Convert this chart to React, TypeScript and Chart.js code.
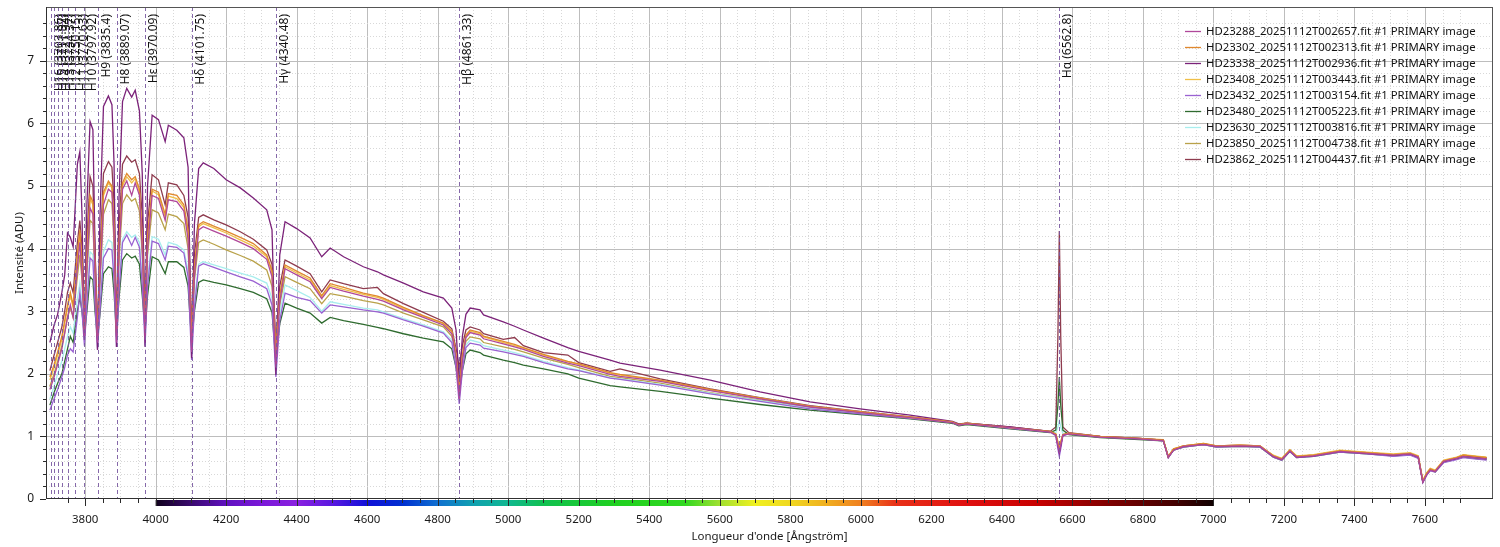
import { useEffect, useRef } from "react";
import { Chart, registerables } from "chart.js";

Chart.register(...registerables);

const FONT = '"Noto Sans", "Open Sans", sans-serif';

// Wavelength grid (Ångström)
const wavelengths = [
  3700, 3712, 3722, 3734, 3742, 3750, 3758, 3766, 3778, 3785, 3791, 3798, 3805, 3814, 3822, 3828, 3835, 3842,
  3852, 3866, 3876, 3882, 3889, 3896, 3906, 3918, 3932, 3942, 3954, 3962, 3970, 3977, 3990, 4008, 4027, 4036, 4060, 4080,
  4092, 4102, 4110, 4122, 4135, 4165, 4200, 4240, 4277, 4315, 4330, 4341, 4352, 4367, 4400, 4438, 4471, 4495, 4533, 4589,
  4629, 4646, 4703, 4759, 4816, 4840, 4852, 4861, 4870, 4880, 4892, 4920, 4930, 4986, 5018, 5043, 5100, 5169, 5200, 5289,
  5317, 5431, 5573, 5714, 5856, 5998, 6140, 6260, 6278, 6300, 6423, 6537, 6553, 6559, 6563, 6567, 6573, 6590, 6679, 6790,
  6858, 6872, 6887, 6915, 6972, 7009, 7076, 7132, 7170, 7194, 7217, 7236, 7284, 7359, 7435, 7510, 7558, 7581, 7594, 7605,
  7615, 7629, 7653, 7690, 7709, 7740, 7775,
];

const hd23288 = [
  1.75, 1.95, 2.15, 2.40, 2.65, 2.90, 3.10, 2.90, 3.70, 4.10, 3.60, 2.60, 3.70, 4.65, 4.55, 3.60, 2.50, 3.50,
  4.70, 4.95, 4.90, 4.20, 2.50, 3.90, 4.95, 5.08, 4.85, 5.05, 4.85, 4.00, 2.55, 4.00, 4.85, 4.80, 4.45, 4.78, 4.75, 4.60,
  4.15, 2.35, 3.55, 4.30, 4.35, 4.28, 4.20, 4.10, 4.00, 3.83, 3.55, 2.10, 3.15, 3.68, 3.58, 3.47, 3.20, 3.38, 3.32, 3.24,
  3.19, 3.16, 3.02, 2.90, 2.78, 2.64, 2.25, 1.60, 2.20, 2.58, 2.66, 2.62, 2.56, 2.48, 2.43, 2.39, 2.28, 2.17, 2.13, 1.99,
  1.96, 1.88, 1.73, 1.60, 1.47, 1.38, 1.30, 1.22, 1.18, 1.20, 1.14, 1.07, 1.02, 0.86, 0.76, 0.86, 1.02, 1.04, 0.99, 0.96,
  0.93, 0.67, 0.78, 0.84, 0.87, 0.84, 0.85, 0.84, 0.68, 0.63, 0.77, 0.67, 0.69, 0.76, 0.73, 0.70, 0.72, 0.67, 0.27, 0.39,
  0.46, 0.44, 0.60, 0.65, 0.68, 0.66, 0.64,
];

const hd23302 = [
  1.95, 2.15, 2.35, 2.60, 2.85, 3.10, 3.30, 3.10, 3.90, 4.30, 3.80, 2.70, 3.90, 4.85, 4.75, 3.80, 2.60, 3.70,
  4.90, 5.08, 5.00, 4.40, 2.65, 4.10, 5.05, 5.20, 5.10, 5.15, 4.95, 4.20, 2.70, 4.20, 4.95, 4.90, 4.55, 4.88, 4.85, 4.70,
  4.30, 2.55, 3.70, 4.38, 4.43, 4.36, 4.28, 4.18, 4.08, 3.90, 3.65, 2.30, 3.25, 3.74, 3.64, 3.53, 3.25, 3.44, 3.38, 3.29,
  3.24, 3.21, 3.06, 2.93, 2.81, 2.68, 2.30, 1.75, 2.30, 2.62, 2.70, 2.66, 2.60, 2.52, 2.47, 2.42, 2.31, 2.20, 2.16, 2.02,
  1.99, 1.90, 1.75, 1.61, 1.48, 1.39, 1.31, 1.23, 1.19, 1.21, 1.14, 1.08, 1.04, 0.90, 0.80, 0.90, 1.03, 1.05, 1.00, 0.97,
  0.94, 0.68, 0.80, 0.85, 0.89, 0.85, 0.86, 0.85, 0.69, 0.64, 0.78, 0.68, 0.70, 0.77, 0.74, 0.71, 0.73, 0.68, 0.29, 0.41,
  0.48, 0.45, 0.61, 0.66, 0.70, 0.68, 0.66,
];

const hd23338 = [
  2.50, 2.78, 2.95, 3.30, 3.58, 4.25, 4.18, 4.03, 5.35, 5.55, 4.56, 2.54, 4.70, 6.03, 5.90, 4.03, 2.38, 4.50,
  6.27, 6.44, 6.30, 5.36, 2.43, 4.80, 6.35, 6.56, 6.42, 6.53, 6.20, 5.20, 2.43, 5.00, 6.13, 6.06, 5.71, 5.97, 5.89, 5.77,
  5.30, 2.25, 4.40, 5.28, 5.37, 5.28, 5.10, 4.97, 4.81, 4.62, 4.30, 1.98, 3.90, 4.43, 4.32, 4.17, 3.87, 4.01, 3.87, 3.71,
  3.63, 3.58, 3.45, 3.31, 3.21, 3.05, 2.70, 1.85, 2.60, 2.95, 3.05, 3.02, 2.94, 2.83, 2.76, 2.70, 2.57, 2.42, 2.36, 2.22,
  2.17, 2.06, 1.90, 1.71, 1.55, 1.44, 1.34, 1.24, 1.20, 1.21, 1.15, 1.08, 1.03, 0.85, 0.74, 0.85, 1.02, 1.05, 1.00, 0.97,
  0.94, 0.67, 0.79, 0.84, 0.88, 0.84, 0.85, 0.84, 0.68, 0.63, 0.77, 0.67, 0.69, 0.76, 0.73, 0.70, 0.72, 0.67, 0.28, 0.40,
  0.47, 0.44, 0.60, 0.65, 0.69, 0.67, 0.65,
];

const hd23408 = [
  1.90, 2.10, 2.30, 2.55, 2.80, 3.05, 3.25, 3.05, 3.85, 4.25, 3.75, 2.70, 3.85, 4.80, 4.70, 3.75, 2.65, 3.65,
  4.85, 5.05, 4.97, 4.35, 2.70, 4.05, 5.00, 5.15, 5.05, 5.12, 4.90, 4.15, 2.75, 4.15, 4.92, 4.86, 4.50, 4.84, 4.80, 4.66,
  4.25, 2.60, 3.70, 4.35, 4.40, 4.33, 4.25, 4.14, 4.04, 3.87, 3.62, 2.35, 3.25, 3.71, 3.61, 3.50, 3.22, 3.41, 3.35, 3.27,
  3.22, 3.19, 3.04, 2.92, 2.80, 2.67, 2.32, 1.80, 2.30, 2.60, 2.68, 2.64, 2.59, 2.50, 2.45, 2.41, 2.30, 2.19, 2.15, 2.01,
  1.98, 1.89, 1.74, 1.61, 1.48, 1.39, 1.30, 1.23, 1.19, 1.21, 1.14, 1.08, 1.04, 0.92, 0.82, 0.92, 1.03, 1.05, 1.00, 0.97,
  0.95, 0.68, 0.80, 0.85, 0.89, 0.85, 0.86, 0.85, 0.70, 0.65, 0.79, 0.69, 0.71, 0.78, 0.75, 0.72, 0.74, 0.69, 0.30, 0.42,
  0.49, 0.46, 0.62, 0.67, 0.71, 0.69, 0.67,
];

const hd23432 = [
  1.42, 1.60, 1.75, 1.95, 2.10, 2.30, 2.40, 2.35, 2.90, 3.30, 3.00, 2.45, 3.10, 3.85, 3.80, 3.10, 2.40, 3.00,
  3.85, 4.00, 3.98, 3.50, 2.43, 3.30, 4.10, 4.22, 4.05, 4.18, 4.02, 3.40, 2.45, 3.40, 4.12, 4.08, 3.82, 4.04, 4.02, 3.93,
  3.55, 2.22, 3.05, 3.72, 3.76, 3.70, 3.63, 3.55, 3.48, 3.36, 3.10, 1.95, 2.85, 3.29, 3.22, 3.17, 2.97, 3.10, 3.07, 3.02,
  2.99, 2.97, 2.86, 2.76, 2.65, 2.50, 2.10, 1.52, 2.05, 2.42, 2.49, 2.46, 2.41, 2.35, 2.31, 2.28, 2.18, 2.08, 2.05, 1.93,
  1.91, 1.82, 1.68, 1.56, 1.44, 1.36, 1.29, 1.22, 1.18, 1.20, 1.13, 1.07, 1.01, 0.80, 0.68, 0.80, 1.01, 1.04, 0.99, 0.96,
  0.93, 0.66, 0.78, 0.83, 0.87, 0.83, 0.84, 0.83, 0.67, 0.62, 0.76, 0.66, 0.68, 0.75, 0.72, 0.68, 0.70, 0.65, 0.26, 0.38,
  0.45, 0.43, 0.58, 0.63, 0.66, 0.64, 0.62,
];

const hd23480 = [
  1.50, 1.70, 1.85, 2.00, 2.20, 2.40, 2.60, 2.50, 3.00, 3.23, 3.00, 2.60, 3.00, 3.55, 3.50, 3.00, 2.55, 2.95,
  3.60, 3.71, 3.68, 3.30, 2.60, 3.20, 3.82, 3.92, 3.85, 3.88, 3.75, 3.25, 2.70, 3.25, 3.87, 3.82, 3.60, 3.79, 3.79, 3.70,
  3.40, 2.50, 3.00, 3.46, 3.50, 3.46, 3.42, 3.36, 3.30, 3.20, 2.98, 2.20, 2.80, 3.13, 3.05, 2.97, 2.81, 2.90, 2.85, 2.79,
  2.74, 2.72, 2.64, 2.57, 2.51, 2.40, 2.10, 1.70, 2.05, 2.32, 2.38, 2.34, 2.30, 2.22, 2.18, 2.14, 2.08, 2.00, 1.93, 1.81,
  1.79, 1.72, 1.61, 1.51, 1.42, 1.35, 1.28, 1.21, 1.17, 1.19, 1.12, 1.06, 1.10, 1.50, 1.95, 1.50, 1.10, 1.03, 0.98, 0.95,
  0.93, 0.67, 0.78, 0.83, 0.87, 0.83, 0.84, 0.83, 0.67, 0.62, 0.76, 0.66, 0.68, 0.75, 0.72, 0.69, 0.71, 0.66, 0.27, 0.39,
  0.46, 0.43, 0.59, 0.64, 0.67, 0.65, 0.63,
];

const hd23630 = [
  1.60, 1.80, 2.00, 2.20, 2.40, 2.60, 2.75, 2.65, 3.20, 3.45, 3.15, 2.65, 3.20, 3.95, 3.90, 3.20, 2.55, 3.10,
  3.95, 4.14, 4.10, 3.60, 2.60, 3.40, 4.15, 4.27, 4.18, 4.22, 4.10, 3.50, 2.65, 3.50, 4.19, 4.15, 3.90, 4.10, 4.06, 3.98,
  3.65, 2.45, 3.20, 3.75, 3.79, 3.74, 3.68, 3.61, 3.55, 3.45, 3.20, 2.15, 2.95, 3.42, 3.33, 3.22, 3.00, 3.15, 3.11, 3.05,
  3.02, 2.99, 2.88, 2.78, 2.67, 2.54, 2.20, 1.65, 2.12, 2.46, 2.54, 2.50, 2.45, 2.38, 2.34, 2.30, 2.20, 2.10, 2.06, 1.94,
  1.92, 1.83, 1.69, 1.57, 1.45, 1.37, 1.29, 1.22, 1.18, 1.20, 1.13, 1.07, 1.06, 1.15, 1.25, 1.15, 1.05, 1.04, 0.99, 0.96,
  0.93, 0.67, 0.79, 0.84, 0.88, 0.84, 0.85, 0.84, 0.68, 0.63, 0.77, 0.67, 0.69, 0.76, 0.73, 0.70, 0.72, 0.67, 0.28, 0.40,
  0.47, 0.44, 0.60, 0.65, 0.69, 0.67, 0.65,
];

const hd23850 = [
  1.80, 2.00, 2.20, 2.45, 2.65, 2.90, 3.05, 2.90, 3.55, 3.90, 3.50, 2.75, 3.60, 4.45, 4.40, 3.50, 2.60, 3.40,
  4.55, 4.78, 4.72, 4.10, 2.70, 3.80, 4.72, 4.86, 4.76, 4.80, 4.60, 3.90, 2.80, 3.90, 4.62, 4.57, 4.30, 4.55, 4.51, 4.40,
  4.00, 2.60, 3.50, 4.10, 4.14, 4.07, 3.98, 3.89, 3.80, 3.66, 3.40, 2.30, 3.10, 3.55, 3.46, 3.36, 3.12, 3.28, 3.24, 3.17,
  3.13, 3.10, 2.97, 2.86, 2.75, 2.60, 2.28, 1.75, 2.20, 2.52, 2.59, 2.56, 2.50, 2.43, 2.39, 2.35, 2.25, 2.15, 2.10, 1.96,
  1.94, 1.85, 1.70, 1.58, 1.46, 1.37, 1.29, 1.22, 1.18, 1.20, 1.13, 1.07, 1.03, 0.90, 0.82, 0.90, 1.02, 1.04, 0.99, 0.96,
  0.94, 0.68, 0.79, 0.84, 0.88, 0.84, 0.85, 0.84, 0.69, 0.64, 0.78, 0.68, 0.70, 0.77, 0.74, 0.71, 0.73, 0.68, 0.29, 0.41,
  0.48, 0.45, 0.61, 0.66, 0.70, 0.68, 0.66,
];

const hd23862 = [
  2.05, 2.30, 2.50, 2.75, 3.00, 3.30, 3.45, 3.30, 4.10, 4.45, 4.00, 2.80, 4.10, 5.15, 5.00, 4.00, 2.70, 3.90,
  5.20, 5.39, 5.30, 4.70, 2.75, 4.30, 5.35, 5.48, 5.38, 5.42, 5.20, 4.50, 2.90, 4.40, 5.18, 5.10, 4.70, 5.05, 5.02, 4.85,
  4.50, 2.75, 3.90, 4.50, 4.54, 4.46, 4.38, 4.27, 4.15, 3.98, 3.75, 2.50, 3.40, 3.82, 3.72, 3.60, 3.31, 3.50, 3.44, 3.36,
  3.38, 3.28, 3.12, 2.98, 2.84, 2.72, 2.40, 2.10, 2.45, 2.70, 2.75, 2.70, 2.64, 2.55, 2.58, 2.45, 2.34, 2.30, 2.18, 2.04,
  2.08, 1.92, 1.76, 1.62, 1.49, 1.40, 1.31, 1.23, 1.19, 1.21, 1.15, 1.08, 1.15, 2.60, 4.28, 2.60, 1.15, 1.06, 1.00, 0.97,
  0.94, 0.66, 0.79, 0.85, 0.88, 0.85, 0.86, 0.85, 0.69, 0.64, 0.78, 0.68, 0.70, 0.77, 0.74, 0.71, 0.73, 0.68, 0.27, 0.39,
  0.48, 0.45, 0.61, 0.66, 0.70, 0.68, 0.66,
];

const seriesNames = [
  "HD23288_20251112T002657.fit #1 PRIMARY image",
  "HD23302_20251112T002313.fit #1 PRIMARY image",
  "HD23338_20251112T002936.fit #1 PRIMARY image",
  "HD23408_20251112T003443.fit #1 PRIMARY image",
  "HD23432_20251112T003154.fit #1 PRIMARY image",
  "HD23480_20251112T005223.fit #1 PRIMARY image",
  "HD23630_20251112T003816.fit #1 PRIMARY image",
  "HD23850_20251112T004738.fit #1 PRIMARY image",
  "HD23862_20251112T004437.fit #1 PRIMARY image",
];
const seriesValues = [hd23288, hd23302, hd23338, hd23408, hd23432, hd23480, hd23630, hd23850, hd23862];
const seriesColors = [
  "#b0489a", "#e0892e", "#7b2279", "#f0bf48", "#9a62d2", "#2f6b2f", "#a8eeee", "#b9a24a", "#8e3b4e",
];

// Balmer line markers
const lineLabels = [
  "H16 (3703.86)", "H15 (3711.97)", "H14 (3721.94)", "H13 (3734.37)", "H12 (3750.15)", "H11 (3770.63)",
  "H10 (3797.92)", "H9 (3835.4)", "H8 (3889.07)", "Hε (3970.09)", "Hδ (4101.75)", "Hγ (4340.48)",
  "Hβ (4861.33)", "Hα (6562.8)",
];
const lineWavelengths = [
  3703.86, 3711.97, 3721.94, 3734.37, 3750.15, 3770.63, 3797.92, 3835.4, 3889.07, 3970.09, 4101.75, 4340.48,
  4861.33, 6562.8,
];

// Visible spectrum colour strip under the x axis
const stripWavelengths = [
  4000, 4100, 4200, 4300, 4400, 4500, 4600, 4700, 4800, 4900, 5000, 5100, 5300, 5500, 5600, 5700, 5800, 5900,
  6000, 6100, 6300, 6500, 6700, 6900, 7000,
];
const stripColors = [
  "#10001c", "#3a0a6e", "#6010c0", "#7a18d8", "#8a20e0", "#5a18e0", "#1010d8", "#0030d0", "#1070d0", "#10a0b0",
  "#10b890", "#10c050", "#20d020", "#30d820", "#a0e030", "#f0f020", "#f0d820", "#f0b020", "#f08020", "#e83018",
  "#e01010", "#c80000", "#800000", "#400000", "#100000",
];

const xTitle = "Longueur d'onde [Ångström]";
const yTitle = "Intensité (ADU)";
const xMajorStep = 200;
const xMinorStep = 50;
const yMajorStep = 1;
const yMinorStep = 0.2;

const isMultiple = (v: number, step: number) => {
  const r = v / step;
  return Math.abs(r - Math.round(r)) < 1e-6;
};

const spectrumPlugin = {
  id: "spectrumDecor",
  beforeDatasetsDraw(chart: any) {
    const { ctx, chartArea: a, scales } = chart;
    const x = scales.x;
    const y = scales.y;
    ctx.save();
    ctx.lineWidth = 1;
    for (const t of x.ticks) {
      const px = Math.round(x.getPixelForValue(t.value)) + 0.5;
      if (px <= a.left + 1 || px >= a.right - 1) continue;
      const major = isMultiple(t.value, xMajorStep);
      ctx.strokeStyle = major ? "#bdbdbd" : "#d8d8d8";
      ctx.setLineDash(major ? [] : [1, 2]);
      ctx.beginPath();
      ctx.moveTo(px, a.top);
      ctx.lineTo(px, a.bottom);
      ctx.stroke();
    }
    for (const t of y.ticks) {
      const py = Math.round(y.getPixelForValue(t.value)) + 0.5;
      if (py <= a.top + 1 || py >= a.bottom - 1) continue;
      const major = isMultiple(t.value, yMajorStep);
      ctx.strokeStyle = major ? "#bdbdbd" : "#d8d8d8";
      ctx.setLineDash(major ? [] : [1, 2]);
      ctx.beginPath();
      ctx.moveTo(a.left, py);
      ctx.lineTo(a.right, py);
      ctx.stroke();
    }
    ctx.restore();
  },
  afterDatasetsDraw(chart: any) {
    const { ctx, chartArea: a, scales } = chart;
    const x = scales.x;
    ctx.save();
    ctx.beginPath();
    ctx.rect(a.left, a.top, a.right - a.left, a.bottom - a.top);
    ctx.clip();
    ctx.lineWidth = 1;
    ctx.font = `12px ${FONT}`;
    ctx.fillStyle = "#111111";
    lineWavelengths.forEach((w, i) => {
      const px = Math.round(x.getPixelForValue(w)) + 0.5;
      ctx.strokeStyle = "rgba(120, 88, 160, 0.9)";
      ctx.setLineDash([4, 3]);
      ctx.beginPath();
      ctx.moveTo(px, a.top);
      ctx.lineTo(px, a.bottom);
      ctx.stroke();
      ctx.save();
      ctx.translate(px + 8, a.top + 7);
      ctx.rotate(-Math.PI / 2);
      ctx.textAlign = "right";
      ctx.textBaseline = "middle";
      ctx.fillText(lineLabels[i], 0, 0);
      ctx.restore();
    });
    ctx.restore();
  },
  afterDraw(chart: any) {
    const { ctx, chartArea: a, scales } = chart;
    const x = scales.x;
    const y = scales.y;
    ctx.save();
    // colour strip
    const x0 = x.getPixelForValue(stripWavelengths[0]);
    const x1 = x.getPixelForValue(stripWavelengths[stripWavelengths.length - 1]);
    const grad = ctx.createLinearGradient(x0, 0, x1, 0);
    stripWavelengths.forEach((w, i) => {
      grad.addColorStop((x.getPixelForValue(w) - x0) / (x1 - x0), stripColors[i]);
    });
    ctx.fillStyle = grad;
    ctx.fillRect(x0, a.bottom + 1, x1 - x0, 6);
    // tick marks
    ctx.strokeStyle = "#2a2a2a";
    ctx.lineWidth = 1;
    ctx.setLineDash([]);
    for (const t of x.ticks) {
      if (!isMultiple(t.value, xMinorStep)) continue;
      const px = Math.round(x.getPixelForValue(t.value)) + 0.5;
      const len = isMultiple(t.value, xMajorStep) ? 7 : 4;
      ctx.beginPath();
      ctx.moveTo(px, a.bottom);
      ctx.lineTo(px, a.bottom + len);
      ctx.stroke();
    }
    for (const t of y.ticks) {
      if (!isMultiple(t.value, yMinorStep)) continue;
      const py = Math.round(y.getPixelForValue(t.value)) + 0.5;
      const len = isMultiple(t.value, yMajorStep) ? 6 : 3;
      ctx.beginPath();
      ctx.moveTo(a.left - len, py);
      ctx.lineTo(a.left, py);
      ctx.stroke();
    }
    // frame
    ctx.strokeStyle = "#555555";
    ctx.strokeRect(Math.round(a.left) + 0.5, Math.round(a.top) + 0.5, Math.round(a.right - a.left) - 1, Math.round(a.bottom - a.top) - 1);
    ctx.strokeStyle = "#303030";
    ctx.beginPath();
    ctx.moveTo(Math.round(a.left) + 0.5, a.top);
    ctx.lineTo(Math.round(a.left) + 0.5, Math.round(a.bottom) - 0.5);
    ctx.lineTo(a.right, Math.round(a.bottom) - 0.5);
    ctx.stroke();
    // legend
    ctx.font = `12px ${FONT}`;
    const w = ctx.measureText(seriesNames[0]).width;
    const size = (12 * 270) / w;
    ctx.font = `${size.toFixed(2)}px ${FONT}`;
    ctx.textBaseline = "middle";
    ctx.textAlign = "left";
    seriesNames.forEach((name, i) => {
      const cy = 31 + i * 16.05;
      ctx.strokeStyle = seriesColors[i];
      ctx.lineWidth = 1.3;
      ctx.beginPath();
      ctx.moveTo(1185, Math.round(cy) + 0.5);
      ctx.lineTo(1201, Math.round(cy) + 0.5);
      ctx.stroke();
      ctx.fillStyle = "#111111";
      ctx.fillText(name, 1206, cy + 0.5);
    });
    ctx.restore();
  },
};

const zeroPadding = (s: any) => {
  s.paddingLeft = 0;
  s.paddingRight = 0;
  s.paddingTop = 0;
  s.paddingBottom = 0;
};

export default function App() {
  const canvasRef = useRef<HTMLCanvasElement | null>(null);

  useEffect(() => {
    if (!canvasRef.current) return;
    const datasets = seriesNames.map((name, i) => ({
      label: name,
      data: wavelengths.map((w, j) => ({ x: w, y: seriesValues[i][j] })),
      borderColor: seriesColors[i],
      backgroundColor: seriesColors[i],
      borderWidth: 1.3,
      pointRadius: 0,
      tension: 0,
      fill: false,
    }));
    const tickFont = { family: FONT, size: 11.5 };
    const chart = new Chart(canvasRef.current, {
      type: "line",
      data: { datasets },
      options: {
        responsive: false,
        animation: false,
        devicePixelRatio: 1,
        layout: { padding: { top: 7, right: 7, left: 0, bottom: 0 } },
        plugins: { legend: { display: false }, tooltip: { enabled: false } },
        scales: {
          x: {
            type: "linear",
            min: 3689,
            max: 7793,
            afterFit: (s: any) => {
              s.height = 48;
              zeroPadding(s);
            },
            grid: { display: false, drawTicks: false },
            border: { display: false },
            ticks: {
              stepSize: xMinorStep,
              autoSkip: false,
              maxRotation: 0,
              padding: 14,
              color: "#1a1a1a",
              font: tickFont,
              callback: (v: any) => (isMultiple(Number(v), xMajorStep) ? String(Math.round(Number(v))) : ""),
            },
            title: {
              display: true,
              text: xTitle,
              color: "#1a1a1a",
              font: tickFont,
              padding: { top: 0, bottom: 3 },
            },
          },
          y: {
            type: "linear",
            min: 0,
            max: 7.86,
            afterFit: (s: any) => {
              s.width = 46;
              zeroPadding(s);
            },
            grid: { display: false, drawTicks: false },
            border: { display: false },
            ticks: {
              stepSize: yMinorStep,
              autoSkip: false,
              padding: 12,
              color: "#1a1a1a",
              font: { family: FONT, size: 12 },
              callback: (v: any) => (isMultiple(Number(v), yMajorStep) ? String(Math.round(Number(v))) : ""),
            },
            title: {
              display: true,
              text: yTitle,
              color: "#1a1a1a",
              font: tickFont,
              padding: { top: 13, bottom: 0 },
            },
          },
        },
      },
      plugins: [spectrumPlugin],
    } as any);
    return () => chart.destroy();
  }, []);

  return (
    <div style={{ position: "absolute", left: 0, top: 0, width: 1500, height: 547, background: "#ffffff" }}>
      <canvas ref={canvasRef} width={1500} height={547} style={{ display: "block", width: 1500, height: 547 }} />
    </div>
  );
}
